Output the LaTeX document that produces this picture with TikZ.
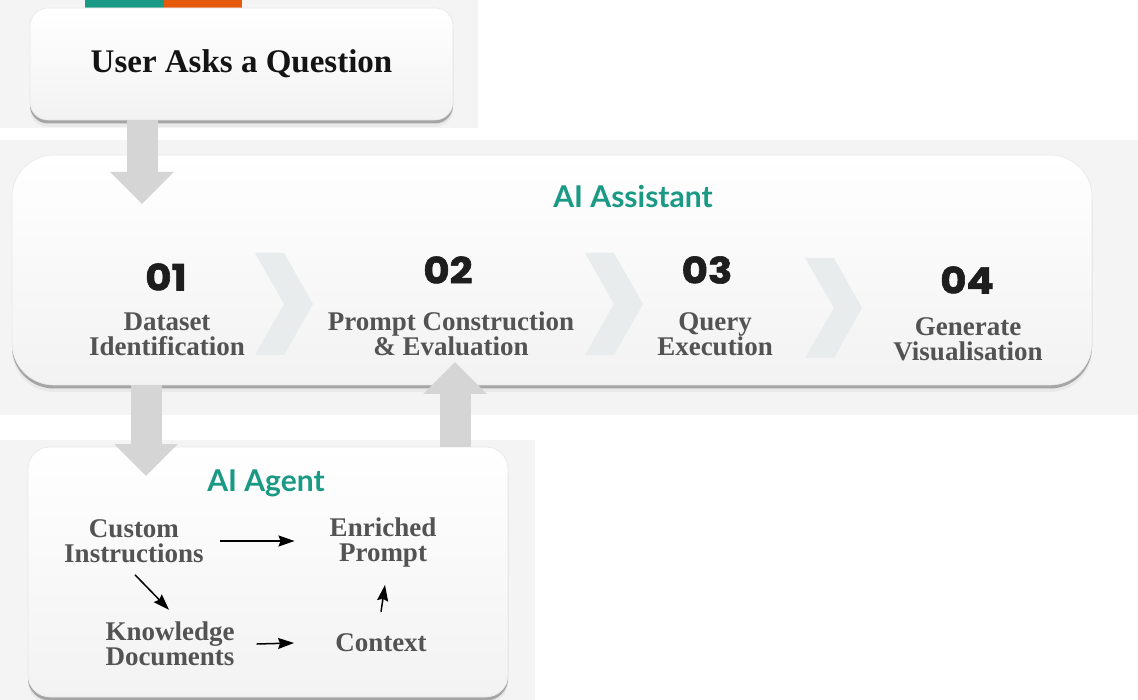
\documentclass[tikz,border=0pt]{standalone}
\usepackage{fontspec}
\setmainfont{Liberation Serif}
\newfontfamily\latofont{Lato}
\newfontfamily\numfont{Poppins}[BoldFeatures={FakeBold=1.6}]
\usetikzlibrary{arrows.meta,shadows,calc}
\definecolor{tealc}{HTML}{1A9A85}
\definecolor{orangec}{HTML}{E65A0C}
\definecolor{labelc}{HTML}{535353}
\definecolor{numc}{HTML}{1E1E1E}
\definecolor{haloc}{HTML}{F4F4F4}
\definecolor{chevc}{HTML}{E8ECEC}
\definecolor{arrowc}{HTML}{D5D5D5}
\newcommand{\widenum}[1]{\scalebox{1.22}[1.1]{#1}}
\tikzset{
  box/.style={rounded corners=18pt, draw=black!9, line width=0.6pt,
    top color=white, bottom color=black!5,
    general shadow={shadow yshift=-7pt, fill=black!10, opacity=0.7},
    drop shadow={shadow xshift=0pt, shadow yshift=-3.5pt, fill=black!38, opacity=0.9}},
  titletext/.style={font=\latofont\bfseries\fontsize{30}{32}\selectfont, text=tealc, inner sep=0pt},
  numtext/.style={font=\numfont\bfseries\fontsize{33}{36}\selectfont, text=numc, inner sep=0pt},
  lbltext/.style={font=\bfseries\fontsize{27}{25}\selectfont, text=labelc, align=center, inner sep=0pt},
  bigarrow/.style={draw=arrowc, line width=31pt, -{Triangle[width=62pt,length=32pt]}},
  smallarrow/.style={draw=black, line width=1.5pt, -{Stealth[length=16pt,width=11pt,inset=2pt]}},
  chev/.style={fill=chevc}
}
\begin{document}
\begin{tikzpicture}[x=1pt,y=-1pt]
\useasboundingbox (0,0) rectangle (1138,700);
% halos
\fill[haloc] (0,0) rectangle (478,128);
\fill[haloc] (0,140) rectangle (1138,415);
\fill[haloc] (0,440) rectangle (535,700);
% colour bars
\fill[tealc] (85,0) rectangle (164,8);
\fill[orangec] (164,0) rectangle (242,8);

% boxes
\node[box, minimum width=423pt, minimum height=112pt,
      font=\bfseries\fontsize{33}{36}\selectfont, text=black!92] (q) at (241.5,64) {User Asks a Question};
\node[box, rounded corners=42pt, minimum width=1080pt, minimum height=230pt] (asst) at (552,270) {};
\node[box, rounded corners=22pt, minimum width=480pt, minimum height=250pt] (agent) at (268,572) {};

% AI Assistant content
\node[titletext] (asstT) at (633,197) {AI Assistant};
\fill[chev] (255,253) -- (284,253) -- (313,304) -- (284,355) -- (255,355) -- (284,304) -- cycle;
\fill[chev] (585,253) -- (614,253) -- (643,304) -- (614,355) -- (585,355) -- (614,304) -- cycle;
\fill[chev] (805,258) -- (834,258) -- (862,308) -- (834,358) -- (805,358) -- (834,308) -- cycle;

\node[numtext] (n1) at (166,277) {\widenum{01}};
\node[numtext] (n2) at (448,270) {\widenum{02}};
\node[numtext] (n3) at (707,270) {\widenum{03}};
\node[numtext] (n4) at (967,280) {\widenum{04}};
\node[lbltext] (s1) at (167,334) {Dataset\\Identification};
\node[lbltext] (s2) at (451,334) {Prompt Construction\\\& Evaluation};
\node[lbltext] (s3) at (715,334) {Query\\Execution};
\node[lbltext] (s4) at (968,339) {Generate\\Visualisation};

% AI Agent content
\node[titletext] (agentT) at (266,483) {AI Agent};
\node[lbltext] (ci) at (134,541) {Custom\\Instructions};
\node[lbltext] (ep) at (383,543) {Enriched\\Prompt};
\node[lbltext] (kd) at (170,644) {Knowledge\\Documents};
\node[lbltext] (ctx) at (381,643) {Context};

\draw[smallarrow] ($(ci.east)+(16,0)$) -- ($(ep.west)+(-35,-2)$);
\draw[smallarrow] ($(ci.south)+(1,12)$) -- ($(kd.north)+(-1,-12)$);
\draw[smallarrow] ($(kd.east)+(22,0)$) -- ($(ctx.west)+(-41,0)$);
\draw[smallarrow] ($(ctx.north)+(0,-22)$) -- ($(ep.south)+(2,17)$);

% big block arrows
\coordinate (t1) at (142,204);
\coordinate (t2) at (146,476);
\coordinate (t3) at (455,362);
\draw[bigarrow] (q.south -| t1) -- (t1);
\draw[bigarrow] (asst.south -| t2) -- (t2);
\draw[bigarrow] (agent.north -| t3) -- (t3);
\end{tikzpicture}
\end{document}
